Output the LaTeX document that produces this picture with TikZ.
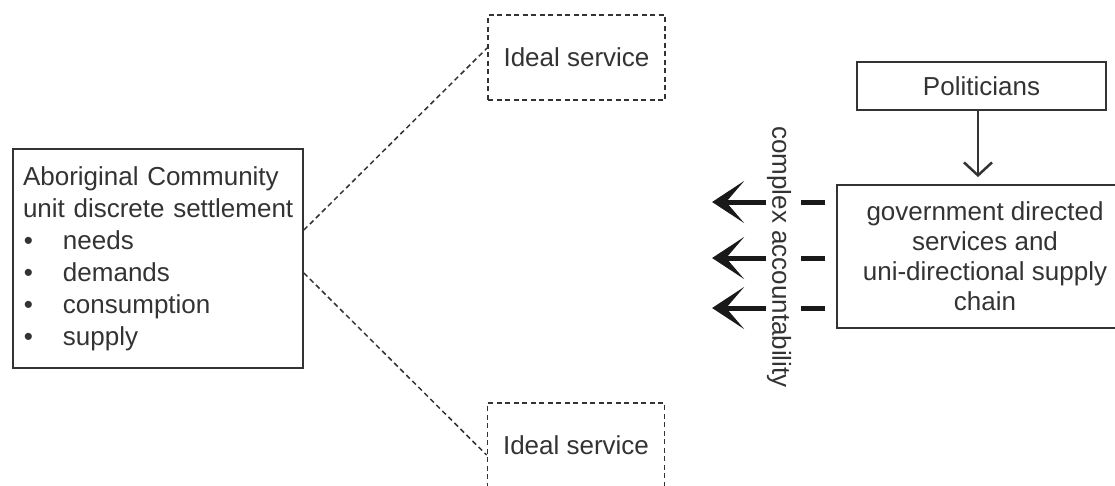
\documentclass[tikz,border=0pt]{standalone}
\usepackage{fontspec}
\setmainfont{Liberation Sans}
\usetikzlibrary{arrows.meta,calc}
\definecolor{ink}{HTML}{333333}
\begin{document}
\begin{tikzpicture}[x=1pt,y=-1pt,
  every node/.style={font=\fontsize{26}{31}\selectfont, text=ink},
  solidbox/.style={draw=ink, line width=1.8pt, inner sep=0pt},
  dashbox/.style={draw=ink, line width=1.8pt, dash pattern=on 5pt off 3.5pt, inner sep=0pt, minimum width=177pt, minimum height=85pt},
  dashlink/.style={draw=ink, line width=1.5pt, dash pattern=on 5pt off 3.5pt},
  bigarrow/.style={draw=black!90, line width=5pt, -{Stealth[length=32pt,width=42pt,inset=18pt]}},
  bigdash/.style={draw=black!90, line width=5pt},
  downarrow/.style={draw=ink, line width=2.5pt, -{Straight Barb[length=13pt,width=28pt]}, shorten >=7pt},
  ]
\useasboundingbox (0,0) rectangle (1115,485);
\clip (0,0) rectangle (1115,485);

\node[solidbox, minimum width=290pt, minimum height=219pt, text width=270pt, align=left, inner xsep=10pt,
      font=\fontsize{26}{32}\selectfont] (comm) at (158,258.5)
  {\mbox{Aboriginal Community}\\\mbox{unit discrete settlement}\\
   \hspace*{1pt}\makebox[39pt][l]{•}needs\\
   \hspace*{1pt}\makebox[39pt][l]{•}demands\\
   \hspace*{1pt}\makebox[39pt][l]{•}consumption\\
   \hspace*{1pt}\makebox[39pt][l]{•}supply};

\node[dashbox] (ideal1) at (576.5,57.5) {Ideal service};
\node[dashbox] (ideal2) at (576,445.5) {Ideal service};

\draw[dashlink] ($(comm.east)+(0,-28.5)$) -- ($(ideal1.west)+(0,-9.5)$);
\draw[dashlink] ($(comm.east)+(0,14.5)$) -- ($(ideal2.west)+(0,9.5)$);

\node[solidbox, minimum width=249pt, minimum height=48pt] (pol) at (981.5,86) {Politicians};
\node[solidbox, minimum width=296pt, minimum height=143pt, align=center, font=\fontsize{26}{30}\selectfont] (gov) at (985,256.5)
  {government directed\\services and\\uni-directional supply\\chain};

\draw[downarrow] ($(pol.south)+(-3.5,0)$) -- ($(gov.north)+(-7,0)$);

\foreach \dy in {-54.5,1.5,51.5} {
  \draw[bigdash] ($(gov.west)+(-11,\dy)$) -- ($(gov.west)+(-35,\dy)$);
  \draw[bigarrow] ($(gov.west)+(-70,\dy)$) -- ($(gov.west)+(-124,\dy)$);
}

\node[rotate=-90, inner sep=0pt] (acc) at (779,257) {complex accountability};
\end{tikzpicture}
\end{document}
